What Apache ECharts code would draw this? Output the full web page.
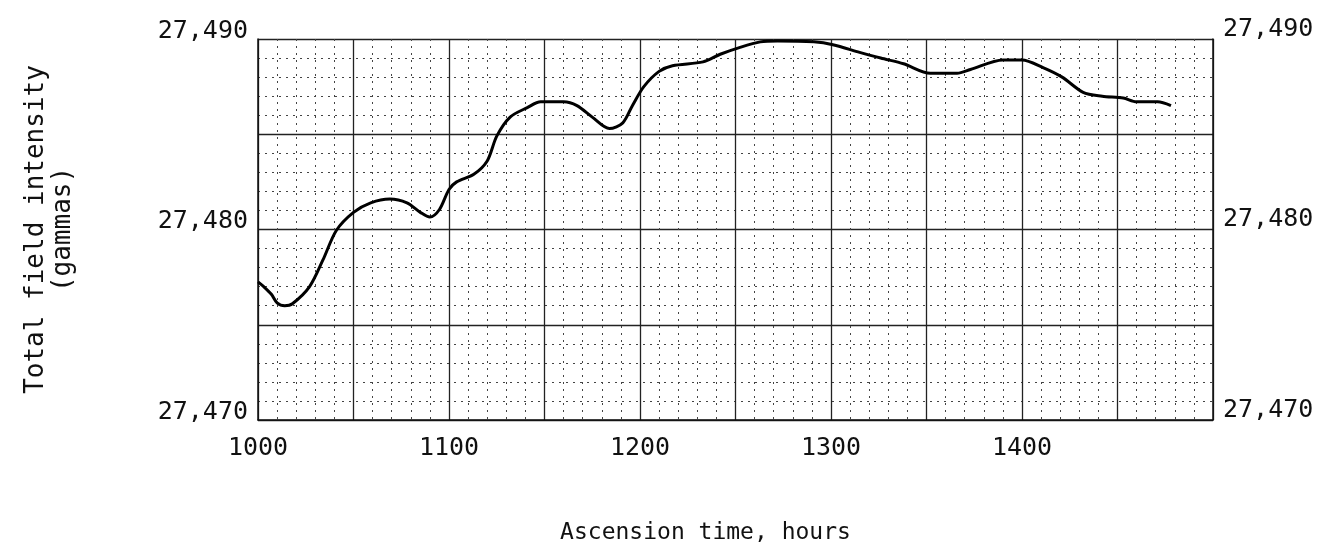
<!DOCTYPE html>
<html>
<head>
<meta charset="utf-8">
<title>Total field intensity</title>
<script src="https://cdn.jsdelivr.net/npm/echarts@6/dist/echarts.min.js"></script>
<style>
  html, body { margin: 0; padding: 0; background: #fff; }
  #chart { width: 1325px; height: 550px; }
</style>
</head>
<body>
<div id="chart"></div>
<script>
// ascension time (hours) and total field (gammas)
var hours = [1000, 1003, 1007, 1010, 1014, 1018, 1027, 1034, 1041, 1050, 1059, 1069, 1078, 1085, 1090, 1095,
  1100, 1104, 1113, 1120, 1125, 1132, 1141, 1148, 1160, 1167, 1175, 1184, 1191, 1196, 1202, 1210, 1217,
  1233, 1242, 1252, 1263, 1272, 1291, 1301, 1315, 1326, 1338, 1352, 1366, 1373, 1390, 1400, 1411, 1421,
  1432, 1442, 1453, 1460, 1471, 1478];
var gammas = [27477.25, 27477.0, 27476.6, 27476.15, 27476.0, 27476.1, 27477.0, 27478.4, 27479.95, 27480.9,
  27481.4, 27481.6, 27481.4, 27480.9, 27480.65, 27481.05, 27482.1, 27482.5, 27482.9, 27483.6, 27484.9,
  27485.9, 27486.4, 27486.7, 27486.7, 27486.5, 27485.9, 27485.3, 27485.6, 27486.5, 27487.5, 27488.3,
  27488.6, 27488.8, 27489.2, 27489.55, 27489.85, 27489.9, 27489.85, 27489.7, 27489.3, 27489.0, 27488.7,
  27488.2, 27488.2, 27488.4, 27488.9, 27488.9, 27488.5, 27488.0, 27487.2, 27487.0, 27486.9, 27486.7,
  27486.7, 27486.5];
var xTicks = [1000, 1100, 1200, 1300, 1400];
var yTicks = [27470, 27480, 27490];

var mono = '"DejaVu Sans Mono", "Liberation Mono", monospace';
var pts = [];
for (var i = 0; i < hours.length; i++) pts.push([hours[i], gammas[i]]);

function yLabel(v) {
  if (yTicks.indexOf(v) < 0) return '';
  return String(v).replace(/(\d\d)(\d\d\d)$/, '$1,$2');
}

var chart = echarts.init(document.getElementById('chart'));
chart.setOption({
  backgroundColor: '#fff',
  animation: false,
  grid: { left: 258, right: 112, top: 39, bottom: 129 },
  xAxis: {
    type: 'value', min: 1000, max: 1500, interval: 50,
    name: 'Ascension time, hours', nameLocation: 'middle', nameGap: 102,
    nameTextStyle: { fontFamily: mono, fontSize: 23, color: '#111', padding: [0, 60, 0, 0] },
    axisLine: { show: true, lineStyle: { color: '#111', width: 1.5 } },
    axisTick: { show: false },
    axisLabel: {
      fontFamily: mono, fontSize: 25, color: '#111', margin: 16,
      formatter: function (v) { return xTicks.indexOf(v) >= 0 ? String(v) : ''; }
    },
    splitLine: { show: true, lineStyle: { color: '#222', width: 1.3 } },
    minorTick: { show: true, splitNumber: 5, length: 0 },
    minorSplitLine: { show: true, lineStyle: { color: '#444', width: 1, type: [2, 5] } }
  },
  yAxis: [{
    type: 'value', min: 27470, max: 27490, interval: 5,
    name: 'Total field intensity\n(gammas)', nameLocation: 'middle', nameGap: 181, nameRotate: 90,
    nameTextStyle: { fontFamily: mono, fontSize: 26, color: '#111', lineHeight: 27 },
    axisLine: { show: true, lineStyle: { color: '#111', width: 1.5 } },
    axisTick: { show: false },
    axisLabel: {
      fontFamily: mono, fontSize: 25, color: '#111', margin: 10, lineHeight: 16,
      verticalAlign: 'bottom', formatter: yLabel
    },
    splitLine: { show: true, lineStyle: { color: '#222', width: 1.3 } },
    minorTick: { show: true, splitNumber: 5, length: 0 },
    minorSplitLine: { show: true, lineStyle: { color: '#444', width: 1, type: [2, 5] } }
  }, {
    type: 'value', min: 27470, max: 27490, interval: 5, position: 'right',
    axisLine: { show: true, lineStyle: { color: '#111', width: 1.5 } },
    axisTick: { show: false },
    axisLabel: {
      fontFamily: mono, fontSize: 25, color: '#111', margin: 10, lineHeight: 20,
      verticalAlign: 'bottom', formatter: yLabel
    },
    splitLine: { show: false }
  }],
  series: [{
    type: 'line', data: pts, smooth: 0.3, showSymbol: false,
    lineStyle: { color: '#000', width: 3 }
  }]
});
</script>
</body>
</html>
